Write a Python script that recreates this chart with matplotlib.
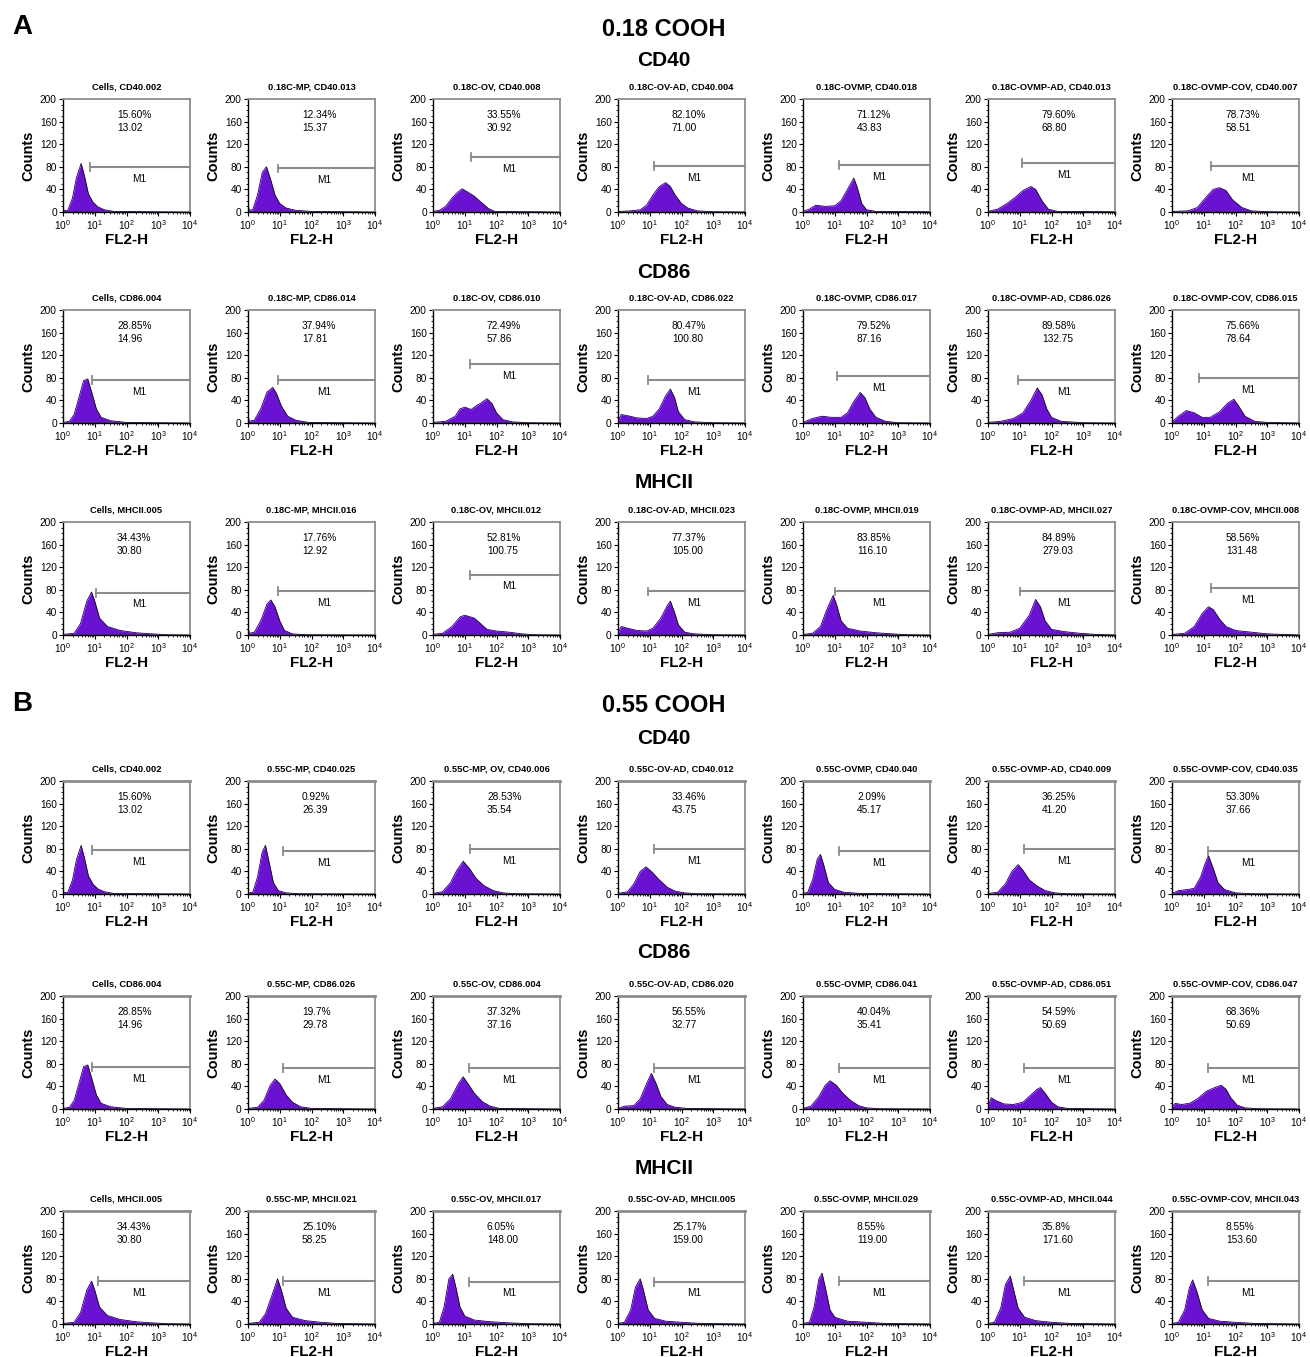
"""
Flow cytometry histograms (FL2-H) for 0.18 / 0.55 COOH particle groups.
"""

import numpy as np
import matplotlib
matplotlib.use("Agg")
import matplotlib.pyplot as plt
from matplotlib.ticker import MultipleLocator, LogLocator, NullFormatter

plt.rcParams["font.family"] = ["Liberation Sans", "DejaVu Sans"]
plt.rcParams["mathtext.default"] = "regular"

# ---------------- data ----------------
# histogram knots are (log10 FL2-H, counts)

# A, CD40
a_cd40_titles = ["Cells, CD40.002", "0.18C-MP, CD40.013", "0.18C-OV, CD40.008",
                 "0.18C-OV-AD, CD40.004", "0.18C-OVMP, CD40.018",
                 "0.18C-OVMP-AD, CD40.013", "0.18C-OVMP-COV, CD40.007"]
a_cd40_pct = ["15.60%", "12.34%", "33.55%", "82.10%", "71.12%", "79.60%", "78.73%"]
a_cd40_mean = ["13.02", "15.37", "30.92", "71.00", "43.83", "68.80", "58.51"]
a_cd40_gate_start = [0.86, 0.95, 1.19, 1.13, 1.14, 1.07, 1.23]
a_cd40_gate_y = [80, 77, 97, 82, 83, 86, 82]
a_cd40_hist = [
    [(0, 10), (0.03, 2), (0.15, 3), (0.3, 25), (0.42, 60), (0.57, 86), (0.67, 65),
     (0.8, 32), (0.95, 17), (1.1, 9), (1.3, 4), (1.6, 1), (4, 0)],
    [(0, 20), (0.03, 3), (0.15, 4), (0.3, 30), (0.45, 70), (0.58, 80), (0.7, 60),
     (0.85, 30), (1.0, 15), (1.2, 7), (1.5, 3), (2, 1), (4, 0)],
    [(0, 1), (0.2, 3), (0.4, 10), (0.6, 25), (0.8, 36), (0.92, 41), (1.1, 35),
     (1.3, 28), (1.5, 18), (1.75, 6), (1.95, 1), (4, 0)],
    [(0, 1), (0.4, 2), (0.7, 4), (0.9, 12), (1.1, 30), (1.3, 45), (1.5, 52),
     (1.65, 45), (1.8, 30), (2.0, 15), (2.2, 7), (2.5, 2), (3, 0.5), (4, 0)],
    [(0, 1), (0.2, 5), (0.4, 12), (0.7, 10), (1.0, 11), (1.2, 20), (1.4, 40),
     (1.6, 60), (1.7, 45), (1.85, 15), (2.0, 4), (2.3, 1), (4, 0.5)],
    [(0, 1), (0.3, 5), (0.6, 15), (0.9, 28), (1.1, 38), (1.35, 45), (1.5, 40),
     (1.7, 20), (1.9, 5), (2.2, 1), (4, 0.5)],
    [(0, 1), (0.5, 2), (0.8, 8), (1.1, 28), (1.3, 40), (1.5, 43), (1.7, 38),
     (1.9, 22), (2.2, 8), (2.5, 2), (3, 0.5), (4, 0)],
]

# A, CD86
a_cd86_titles = ["Cells, CD86.004", "0.18C-MP, CD86.014", "0.18C-OV, CD86.010",
                 "0.18C-OV-AD, CD86.022", "0.18C-OVMP, CD86.017",
                 "0.18C-OVMP-AD, CD86.026", "0.18C-OVMP-COV, CD86.015"]
a_cd86_pct = ["28.85%", "37.94%", "72.49%", "80.47%", "79.52%", "89.58%", "75.66%"]
a_cd86_mean = ["14.96", "17.81", "57.86", "100.80", "87.16", "132.75", "78.64"]
a_cd86_gate_start = [0.91, 0.95, 1.18, 0.94, 1.08, 0.94, 0.84]
a_cd86_gate_y = [76, 76, 105, 76, 83, 76, 80]
a_cd86_hist = [
    [(0, 1), (0.2, 3), (0.35, 15), (0.5, 45), (0.65, 75), (0.78, 78), (0.9, 55),
     (1.05, 25), (1.2, 10), (1.5, 4), (2, 1), (4, 0)],
    [(0, 18), (0.03, 3), (0.2, 5), (0.4, 25), (0.6, 55), (0.78, 63), (0.9, 52),
     (1.05, 30), (1.25, 12), (1.5, 5), (1.9, 1), (4, 0)],
    [(0, 1), (0.4, 3), (0.7, 12), (0.85, 25), (1.0, 28), (1.2, 24), (1.35, 30),
     (1.5, 35), (1.7, 43), (1.85, 35), (2.0, 18), (2.2, 6), (2.5, 2), (3, 0.5), (4, 0)],
    [(0, 2), (0.1, 15), (0.3, 13), (0.6, 9), (0.9, 8), (1.1, 12), (1.3, 25),
     (1.5, 48), (1.65, 60), (1.78, 45), (1.9, 20), (2.1, 6), (2.4, 2), (3, 0.5), (4, 0)],
    [(0, 1), (0.3, 8), (0.6, 12), (0.9, 10), (1.2, 10), (1.4, 18), (1.6, 38),
     (1.8, 54), (1.95, 45), (2.1, 25), (2.3, 10), (2.6, 3), (3, 0.5), (4, 0)],
    [(0, 1), (0.4, 3), (0.8, 8), (1.1, 18), (1.35, 40), (1.55, 62), (1.7, 50),
     (1.85, 25), (2.0, 10), (2.3, 3), (3, 0.5), (4, 0)],
    [(0, 2), (0.2, 12), (0.45, 22), (0.7, 18), (0.95, 10), (1.2, 10), (1.5, 20),
     (1.75, 35), (1.95, 42), (2.1, 30), (2.3, 12), (2.6, 3), (3, 1), (4, 0)],
]

# A, MHCII
a_mhc_titles = ["Cells, MHCII.005", "0.18C-MP, MHCII.016", "0.18C-OV, MHCII.012",
                "0.18C-OV-AD, MHCII.023", "0.18C-OVMP, MHCII.019",
                "0.18C-OVMP-AD, MHCII.027", "0.18C-OVMP-COV, MHCII.008"]
a_mhc_pct = ["34.43%", "17.76%", "52.81%", "77.37%", "83.85%", "84.89%", "58.56%"]
a_mhc_mean = ["30.80", "12.92", "100.75", "105.00", "116.10", "279.03", "131.48"]
a_mhc_gate_start = [1.05, 0.95, 1.18, 0.94, 1.0, 1.0, 1.23]
a_mhc_gate_y = [75, 78, 107, 77, 77, 77, 83]
a_mhc_hist = [
    [(0, 1), (0.35, 3), (0.55, 20), (0.75, 60), (0.9, 76), (1.0, 60), (1.15, 30),
     (1.4, 15), (1.8, 8), (2.3, 4), (2.8, 2), (3.3, 0.5), (4, 0)],
    [(0, 22), (0.03, 3), (0.2, 5), (0.4, 25), (0.6, 55), (0.72, 62), (0.85, 50),
     (1.0, 25), (1.15, 8), (1.4, 2), (1.8, 0.5), (4, 0)],
    [(0, 1), (0.3, 3), (0.6, 15), (0.85, 32), (1.0, 35), (1.3, 30), (1.5, 20),
     (1.7, 10), (2.0, 7), (2.4, 5), (2.8, 2), (3.2, 0.5), (4, 0)],
    [(0, 2), (0.1, 15), (0.3, 12), (0.6, 8), (0.9, 7), (1.1, 12), (1.35, 30),
     (1.55, 52), (1.65, 60), (1.78, 40), (1.9, 18), (2.1, 5), (2.4, 2), (3, 0.5), (4, 0)],
    [(0, 1), (0.3, 3), (0.55, 15), (0.75, 45), (0.95, 70), (1.05, 55), (1.2, 25),
     (1.4, 12), (1.8, 7), (2.3, 4), (2.8, 2), (3.3, 0.5), (4, 0)],
    [(0, 1), (0.3, 4), (0.7, 5), (1.0, 12), (1.3, 35), (1.5, 63), (1.65, 50),
     (1.8, 25), (2.0, 10), (2.4, 6), (2.9, 3), (3.4, 1), (4, 0)],
    [(0, 1), (0.4, 3), (0.7, 15), (0.95, 38), (1.15, 50), (1.3, 45), (1.5, 28),
     (1.7, 15), (2.0, 8), (2.5, 5), (3.0, 2), (3.5, 1), (4, 0)],
]

# B, CD40
b_cd40_titles = ["Cells, CD40.002", "0.55C-MP, CD40.025", "0.55C-MP, OV, CD40.006",
                 "0.55C-OV-AD, CD40.012", "0.55C-OVMP, CD40.040",
                 "0.55C-OVMP-AD, CD40.009", "0.55C-OVMP-COV, CD40.035"]
b_cd40_pct = ["15.60%", "0.92%", "28.53%", "33.46%", "2.09%", "36.25%", "53.30%"]
b_cd40_mean = ["13.02", "26.39", "35.54", "43.75", "45.17", "41.20", "37.66"]
b_cd40_gate_start = [0.9, 1.09, 1.17, 1.12, 1.12, 1.12, 1.12]
b_cd40_gate_y = [78, 76, 80, 80, 76, 79, 76]
b_cd40_hist = [
    a_cd40_hist[0],
    [(0, 2), (0.15, 3), (0.3, 30), (0.45, 75), (0.55, 86), (0.65, 60), (0.8, 20),
     (0.95, 6), (1.2, 2), (1.6, 0.5), (4, 0)],
    [(0, 1), (0.3, 4), (0.55, 20), (0.75, 42), (0.95, 58), (1.15, 45), (1.35, 28),
     (1.6, 15), (1.9, 6), (2.2, 2), (2.6, 0.5), (4, 0)],
    [(0, 1), (0.3, 4), (0.5, 18), (0.7, 40), (0.88, 48), (1.05, 40), (1.3, 25),
     (1.55, 12), (1.8, 5), (2.1, 2), (2.5, 0.5), (4, 0)],
    [(0, 1), (0.15, 3), (0.3, 25), (0.45, 62), (0.55, 70), (0.65, 52), (0.8, 20),
     (1.0, 8), (1.3, 3), (1.8, 1), (4, 0)],
    [(0, 1), (0.3, 3), (0.55, 18), (0.75, 40), (0.95, 52), (1.1, 42), (1.3, 25),
     (1.55, 14), (1.8, 6), (2.1, 2), (2.5, 0.5), (4, 0)],
    [(0, 1), (0.2, 6), (0.5, 8), (0.7, 10), (0.9, 30), (1.05, 55), (1.15, 68),
     (1.3, 45), (1.45, 20), (1.65, 8), (2.0, 2), (2.5, 0.5), (4, 0)],
]

# B, CD86
b_cd86_titles = ["Cells, CD86.004", "0.55C-MP, CD86.026", "0.55C-OV, CD86.004",
                 "0.55C-OV-AD, CD86.020", "0.55C-OVMP, CD86.041",
                 "0.55C-OVMP-AD, CD86.051", "0.55C-OVMP-COV, CD86.047"]
b_cd86_pct = ["28.85%", "19.7%", "37.32%", "56.55%", "40.04%", "54.59%", "68.36%"]
b_cd86_mean = ["14.96", "29.78", "37.16", "32.77", "35.41", "50.69", "50.69"]
b_cd86_gate_start = [0.9, 1.09, 1.14, 1.12, 1.12, 1.12, 1.14]
b_cd86_gate_y = [74, 73, 72, 73, 73, 73, 73]
b_cd86_hist = [
    a_cd86_hist[0],
    [(0, 1), (0.3, 3), (0.5, 15), (0.7, 42), (0.85, 53), (1.0, 45), (1.2, 25),
     (1.4, 12), (1.65, 4), (2.0, 1), (4, 0)],
    [(0, 1), (0.3, 4), (0.55, 18), (0.8, 45), (0.95, 57), (1.1, 45), (1.3, 28),
     (1.55, 13), (1.8, 5), (2.1, 1), (4, 0)],
    [(0, 1), (0.2, 5), (0.5, 6), (0.7, 18), (0.9, 45), (1.05, 63), (1.2, 45),
     (1.35, 22), (1.55, 8), (1.8, 3), (2.2, 1), (4, 0)],
    [(0, 1), (0.25, 5), (0.5, 22), (0.7, 42), (0.85, 50), (1.05, 42), (1.25, 28),
     (1.5, 15), (1.75, 6), (2.0, 2), (2.4, 0.5), (4, 0)],
    [(0, 5), (0.1, 20), (0.25, 15), (0.5, 9), (0.8, 8), (1.1, 12), (1.35, 25),
     (1.55, 35), (1.65, 38), (1.8, 28), (2.0, 12), (2.2, 4), (2.5, 1), (4, 0)],
    [(0, 3), (0.1, 10), (0.3, 8), (0.55, 10), (0.8, 18), (1.1, 32), (1.35, 38),
     (1.55, 42), (1.7, 35), (1.85, 20), (2.05, 7), (2.3, 2), (2.7, 0.5), (4, 0)],
]

# B, MHCII
b_mhc_titles = ["Cells, MHCII.005", "0.55C-MP, MHCII.021", "0.55C-OV, MHCII.017",
                "0.55C-OV-AD, MHCII.005", "0.55C-OVMP, MHCII.029",
                "0.55C-OVMP-AD, MHCII.044", "0.55C-OVMP-COV, MHCII.043"]
b_mhc_pct = ["34.43%", "25.10%", "6.05%", "25.17%", "8.55%", "35.8%", "8.55%"]
b_mhc_mean = ["30.80", "58.25", "148.00", "159.00", "119.00", "171.60", "153.60"]
b_mhc_gate_start = [1.1, 1.09, 1.14, 1.12, 1.12, 1.12, 1.14]
b_mhc_gate_y = [76, 76, 75, 75, 76, 76, 76]
b_mhc_hist = [
    a_mhc_hist[0],
    [(0, 1), (0.35, 3), (0.55, 18), (0.75, 50), (0.93, 80), (1.05, 60), (1.2, 28),
     (1.4, 12), (1.8, 6), (2.3, 3), (2.8, 1), (4, 0)],
    [(0, 1), (0.2, 3), (0.35, 30), (0.5, 80), (0.62, 88), (0.72, 65), (0.85, 30),
     (1.0, 14), (1.3, 7), (1.8, 4), (2.4, 2), (3, 0.5), (4, 0)],
    [(0, 1), (0.2, 3), (0.4, 25), (0.55, 65), (0.7, 80), (0.8, 60), (0.95, 25),
     (1.15, 10), (1.5, 5), (2, 3), (2.6, 1), (4, 0)],
    [(0, 1), (0.2, 3), (0.35, 30), (0.5, 80), (0.6, 90), (0.72, 60), (0.85, 25),
     (1.0, 12), (1.4, 5), (2, 3), (2.6, 1), (4, 0)],
    [(0, 1), (0.2, 3), (0.4, 28), (0.55, 70), (0.7, 85), (0.8, 62), (0.95, 28),
     (1.15, 12), (1.5, 6), (2, 3), (2.6, 1), (4, 0)],
    [(0, 1), (0.2, 3), (0.4, 25), (0.55, 65), (0.65, 78), (0.78, 58), (0.95, 25),
     (1.15, 10), (1.5, 5), (2, 3), (2.6, 1), (4, 0)],
]

# ---------------- plotting ----------------
W, H = 1310, 1357
fill_color = "#6a12d2"
gate_color = "#8c8c8c"

fig = plt.figure(figsize=(W / 100, H / 100), dpi=100)

# pixel layout of the grid
col_left = [63, 248, 433, 618, 803, 988, 1172]
row_top = [99, 310, 522, 781, 996, 1211]
ax_w, ax_h = 127, 113


def draw_panel(ax, title, pct, mean, gate_start, gate_y, knots, top_lw):
    lx = np.array([k[0] for k in knots])
    cnt = np.array([k[1] for k in knots])
    x = 10 ** lx
    ax.fill_between(x, cnt, 0, color=fill_color, lw=0)
    ax.plot(x, cnt, color="#1a0033", lw=0.6)

    ax.set_xscale("log")
    ax.set_xlim(1, 1e4)
    ax.set_ylim(0, 200)

    # M1 gate marker
    x0 = 10 ** gate_start
    ax.plot([x0, 1e4], [gate_y, gate_y], color=gate_color, lw=1.5, clip_on=False)
    ax.plot([x0, x0], [gate_y - 7, gate_y + 7], color=gate_color, lw=1.3)
    ax.text(0.6, (gate_y - 21) / 200, "M1", transform=ax.transAxes,
            ha="center", va="center", fontsize=7.3)

    ax.text(0.425, 0.86, pct, transform=ax.transAxes, ha="left", va="center", fontsize=7.3)
    ax.text(0.425, 0.745, mean, transform=ax.transAxes, ha="left", va="center", fontsize=7.3)

    ax.text(0.5, 1.105, title, transform=ax.transAxes, ha="center", va="center",
            fontsize=6.7, fontweight="bold")
    ax.text(-0.27, 0.5, "Counts", transform=ax.transAxes, rotation=90,
            ha="center", va="center", fontsize=10.5, fontweight="bold")
    ax.text(0.5, -0.245, "FL2-H", transform=ax.transAxes,
            ha="center", va="center", fontsize=11, fontweight="bold")

    # axes decoration
    ax.set_yticks(range(0, 201, 40))
    ax.yaxis.set_minor_locator(MultipleLocator(10))
    ax.set_xticks([1, 10, 100, 1000, 10000])
    ax.set_xticklabels([r"$10^0$", r"$10^1$", r"$10^2$", r"$10^3$", r"$10^4$"])
    ax.xaxis.set_minor_locator(LogLocator(base=10, subs=np.arange(2, 10) * 1.0, numticks=20))
    ax.xaxis.set_minor_formatter(NullFormatter())
    ax.tick_params(which="major", labelsize=7.3, length=3, width=0.8, pad=1.5,
                   top=False, right=False)
    ax.tick_params(which="minor", length=1.5, width=0.6, top=False, right=False)
    ax.spines["top"].set_color(gate_color)
    ax.spines["top"].set_linewidth(top_lw)
    ax.spines["right"].set_color(gate_color)
    ax.spines["right"].set_linewidth(1.3)
    for side in ("left", "bottom"):
        ax.spines[side].set_color("black")
        ax.spines[side].set_linewidth(1.0)


rows = [
    (a_cd40_titles, a_cd40_pct, a_cd40_mean, a_cd40_gate_start, a_cd40_gate_y, a_cd40_hist),
    (a_cd86_titles, a_cd86_pct, a_cd86_mean, a_cd86_gate_start, a_cd86_gate_y, a_cd86_hist),
    (a_mhc_titles, a_mhc_pct, a_mhc_mean, a_mhc_gate_start, a_mhc_gate_y, a_mhc_hist),
    (b_cd40_titles, b_cd40_pct, b_cd40_mean, b_cd40_gate_start, b_cd40_gate_y, b_cd40_hist),
    (b_cd86_titles, b_cd86_pct, b_cd86_mean, b_cd86_gate_start, b_cd86_gate_y, b_cd86_hist),
    (b_mhc_titles, b_mhc_pct, b_mhc_mean, b_mhc_gate_start, b_mhc_gate_y, b_mhc_hist),
]

for r, (titles, pcts, means, gstarts, gys, hists) in enumerate(rows):
    top_lw = 1.3 if r < 3 else 2.0   # panel B frames are drawn heavier on top
    for c in range(7):
        rect = [col_left[c] / W, 1 - (row_top[r] + ax_h) / H, ax_w / W, ax_h / H]
        ax = fig.add_axes(rect)
        draw_panel(ax, titles[c], pcts[c], means[c], gstarts[c], gys[c], hists[c], top_lw)


def fig_text(x_px, y_px, s, size, **kw):
    fig.text(x_px / W, 1 - y_px / H, s, fontsize=size, fontweight="bold",
             va="center", **kw)


# section letters, group and marker titles
fig_text(12, 27, "A", 20, ha="left")
fig_text(12, 704, "B", 20, ha="left")
fig_text(664, 29, "0.18 COOH", 17, ha="center")
fig_text(664, 706, "0.55 COOH", 17, ha="center")
for y_px, name in [(60, "CD40"), (272, "CD86"), (483, "MHCII"),
                   (738, "CD40"), (953, "CD86"), (1168, "MHCII")]:
    fig_text(664, y_px, name, 15, ha="center")

fig.savefig("out.png", dpi=100)
